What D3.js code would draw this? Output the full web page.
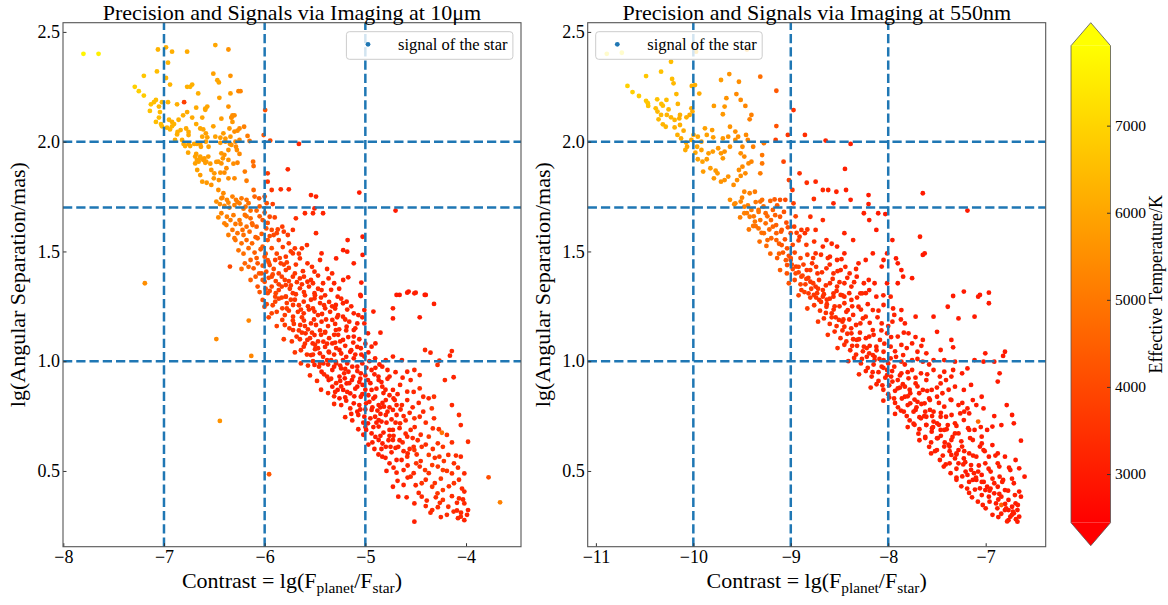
<!DOCTYPE html>
<html>
<head>
<meta charset="utf-8">
<title>Precision and Signals via Imaging</title>
<script src="https://cdn.jsdelivr.net/npm/d3@7"></script>
<style>
  body { margin: 0; background: #fff; }
  svg text { font-family: "Liberation Serif", "Times New Roman", serif; fill: #000; }
</style>
</head>
<body>
<svg id="fig" width="1168" height="605"></svg>
<script>
// ---- data ----
// each point: [contrast lg(Fp/Fs), lg(angular separation / mas), effective temperature K]
const pointsMid = [
  [-7.80,2.40,7700],[-7.65,2.40,7600],
  [-7.06,2.42,6300],[-6.98,2.43,6200],[-6.92,2.41,6200],[-6.77,2.41,6100],[-6.49,2.44,6000],[-6.36,2.42,5600],
  [-6.96,2.36,6300],[-7.07,2.32,6500],[-7.20,2.30,6700],[-7.29,2.25,6900],[-7.25,2.23,6900],[-7.20,2.21,6800],
  [-6.98,2.29,6300],[-6.94,2.26,6300],[-6.77,2.25,6200],[-6.74,2.25,6300],[-6.72,2.26,6200],[-6.66,2.22,6200],[-6.51,2.31,5900],[-6.47,2.28,6000],[-6.455,2.27,6000],[-6.34,2.30,5600],[-6.34,2.22,5800],[-6.26,2.23,5300],
  [-7.08,2.19,6500],[-7.10,2.18,6500],[-7.13,2.17,6600],[-7.05,2.16,6400],[-7.02,2.18,6400],[-6.96,2.18,6300],[-6.87,2.17,6200],[-6.80,2.18,3800],[-6.68,2.155,6100],[-6.59,2.15,6000],[-6.57,2.16,6000],[-6.45,2.20,5900],[-6.36,2.16,5600],
  [-7.14,2.14,6600],[-7.04,2.135,6400],[-7.05,2.11,6500],[-7.08,2.09,6500],[-7.03,2.08,6400],[-6.95,2.10,6300],[-6.92,2.09,6200],[-6.90,2.08,6300],[-6.855,2.10,6200],[-6.81,2.12,6200],[-6.77,2.135,6100],[-6.72,2.11,6100],[-6.62,2.11,6000],[-6.59,2.145,6000],[-6.68,2.08,6100],[-6.51,2.07,5900],[-6.43,2.105,5800],[-6.33,2.11,5600],[-6.32,2.09,5700],[-6.32,2.12,5500],[-6.35,2.06,5700],[-6.25,2.06,5400],
  [-7.02,2.07,6400],[-6.97,2.064,6300],[-6.94,2.056,6300],[-6.92,2.07,6300],[-6.865,2.044,6200],[-6.835,2.053,6200],[-6.78,2.06,6100],[-6.756,2.044,6100],[-6.64,2.06,6000],[-6.61,2.056,6000],[-6.584,2.038,5900],[-6.62,2.023,6000],[-6.57,2.02,5900],[-6.49,2.023,5900],[-6.44,2.018,5800],[-6.41,2.038,5800],[-6.39,2.014,5700],[-6.34,2.023,5700],[-6.27,2.05,5500],[-6.756,2.03,6100],[-6.87,2.033,6200],[-6.89,2.008,6200],[-6.82,2.008,6100],
  [-6.805,1.99,6100],[-6.79,1.98,6100],[-6.756,1.99,6000],[-6.74,1.98,6000],[-6.70,1.99,6000],[-6.673,1.99,6000],[-6.64,1.99,5900],[-6.633,1.977,5900],[-6.584,2.0,5900],[-6.557,1.977,5900],[-6.44,1.995,5700],[-6.39,2.0,5700],[-6.33,1.985,5600],[-6.25,2.008,5400],[-6.276,1.962,5500],
  [-6.76,1.95,6000],[-6.68,1.944,5900],[-6.673,1.917,5900],[-6.656,1.909,5900],[-6.64,1.924,5900],[-6.61,1.917,5800],[-6.58,1.909,5800],[-6.54,1.90,5800],[-6.48,1.908,5700],[-6.43,1.947,5700],[-6.415,1.924,5700],[-6.36,1.917,5600],[-6.31,1.90,5500],[-6.25,1.944,5400],
  [-6.24,2.23,5300],[-6.204,2.068,5200],[-6.17,2.026,5100],[-6.15,2.003,5000],[-6.01,2.03,4300],[-5.995,2.144,4200],[-5.945,2.005,4000],[-5.66,1.99,3300],[-6.30,2.12,5500],[-6.33,2.11,5500],[-6.29,2.0,5400],[-6.30,2.046,5500],[-6.345,1.99,5600],[-6.285,1.977,5400],[-6.27,1.904,5300],[-6.36,1.962,5600],[-6.40,1.94,5600],[-6.38,1.879,5500],[-6.43,1.901,5600],[-6.46,1.909,5700],
  [-6.18,1.822,5100],[-6.115,1.909,4800],[-6.11,1.889,4800],[-6.197,1.864,5100],[-6.30,1.833,5400],[-6.36,1.833,5500],[-6.40,1.859,5500],[-6.455,1.825,5600],[-6.505,1.833,5700],[-6.53,1.803,5600],[-6.576,1.813,5700],[-6.62,1.818,5800],[-6.64,1.848,5800],[-6.67,1.871,5900],[-6.69,1.901,5900],[-6.60,1.924,5800],[-6.56,1.932,5800],[-6.69,1.932,5900],[-6.64,1.932,5900],[-6.59,1.904,5800],[-6.53,1.871,5700],[-6.50,1.856,5700],[-6.44,1.859,5600],
  [-5.97,1.856,3700],[-5.97,1.818,3600],[-5.93,1.78,3600],[-5.84,1.783,3400],[-5.76,1.783,3300],[-5.77,1.874,3300],[-5.54,1.757,3200],[-5.49,1.75,3200],[-5.06,1.768,3000],[-4.70,1.686,3000],
  [-6.46,1.78,5500],[-6.41,1.765,5400],[-6.43,1.742,5400],[-6.375,1.735,5300],[-6.32,1.75,5200],[-6.285,1.735,5100],[-6.23,1.742,5000],[-6.18,1.735,4900],[-6.11,1.78,4600],[-6.055,1.742,4400],[-6.10,1.75,4600],[-6.00,1.75,4200],[-5.92,1.716,3800],
  [-6.48,1.727,5500],[-6.445,1.716,5400],[-6.40,1.707,5300],[-6.36,1.722,5300],[-6.30,1.711,5200],[-6.25,1.719,5100],[-6.19,1.704,4900],[-6.14,1.686,4800],[-6.08,1.686,4600],[-6.00,1.677,4300],[-5.95,1.658,4100],
  [-6.43,1.674,5300],[-6.375,1.658,5200],[-6.34,1.643,5100],[-6.40,1.628,5200],[-6.29,1.625,5000],[-6.25,1.643,5000],[-6.197,1.666,4900],[-6.14,1.651,4700],[-6.32,1.598,5000],[-6.27,1.583,4900],[-6.22,1.598,4800],[-6.18,1.613,4800],[-6.125,1.628,4600],[-6.08,1.613,4500],[-6.02,1.643,4300],[-5.984,1.605,4200],[-5.93,1.598,4000],[-5.88,1.583,3900],[-5.825,1.613,3700],[-5.72,1.598,3500],[-5.60,1.674,3300],[-5.52,1.674,3300],[-5.505,1.696,3200],[-5.42,1.674,3200],[-5.69,1.651,3400],
  [-6.29,1.552,4900],[-6.23,1.537,4800],[-6.18,1.552,4700],[-6.125,1.537,4600],[-6.07,1.56,4500],[-6.02,1.522,4400],[-5.97,1.552,4200],[-5.91,1.575,4000],[-5.86,1.552,3900],[-5.81,1.59,3700],[-5.76,1.537,3700],[-5.70,1.514,3600],[-5.63,1.514,3500],[-5.49,1.583,3300],[-5.58,1.529,3400],[-5.176,1.552,3100],[-5.18,1.499,3100],[-5.027,1.567,3000],[-5.027,1.484,3000],[-5.115,1.446,3100],[-5.22,1.506,3100],[-5.29,1.468,3100],[-5.435,1.491,3200],[-5.45,1.461,3300],[-5.505,1.408,3300],[-5.575,1.446,3400],[-5.65,1.468,3500],[-5.72,1.491,3600],[-5.79,1.476,3600],[-5.84,1.446,3700],[-5.895,1.461,3800],[-5.95,1.438,4000],[-6.00,1.476,4200],[-6.07,1.446,4300],[-6.14,1.461,4500],[-6.197,1.446,4600],[-6.11,1.423,4400],[-6.055,1.40,4300],[-5.984,1.408,4100],[-5.93,1.385,3900],[-5.86,1.40,3800],[-5.79,1.415,3700],[-5.72,1.385,3600],[-5.65,1.377,3500],[-5.575,1.362,3400],[-5.42,1.355,3300],[-5.365,1.377,3300],[-5.31,1.355,3200],[-5.22,1.37,3200],[-5.17,1.382,3100],[-5.04,1.358,3000],[-5.05,1.302,3100],[-4.66,1.302,3000],[-4.57,1.317,3000],[-4.50,1.312,3100],[-4.40,1.302,3000],[-6.345,1.431,4000],[-7.19,1.355,5500],
  [-6.07,1.34,4200],[-6.00,1.362,4100],[-5.93,1.34,3900],[-5.86,1.324,3800],[-5.79,1.347,3700],[-5.72,1.31,3600],[-5.65,1.332,3500],[-5.505,1.31,3400],[-5.435,1.324,3300],[-5.97,1.31,4000],[-5.895,1.294,3900],[-5.79,1.294,3700],
  [-6.158,1.185,5300],[-6.48,1.101,5400],[-6.133,1.024,5300],[-6.445,0.728,5600],[-5.956,0.485,4300],[-3.776,0.471,4100],[-3.662,0.357,5200],[-4.24,0.674,4900],
  [-5.045,1.297,3100],[-4.69,1.302,3000],[-4.584,1.312,3000],[-4.513,1.309,3100],[-4.41,1.302,3000],[-4.318,1.261,3100],[-4.46,1.20,3000],[-4.726,1.241,3100],[-4.92,1.226,3100],[-4.726,1.195,3000],[-4.85,1.13,3100],[-4.90,1.081,3100],[-4.726,1.021,3200],[-4.637,1.005,3200],[-4.513,0.96,3300],[-4.407,1.051,3300],[-4.353,1.039,3200],[-4.283,0.983,3500],[-4.141,1.046,3300],[-4.16,1.025,3200],[-4.21,0.914,3300],[-4.123,0.927,3200],[-4.265,1.002,3300],[-4.584,0.952,3200],[-4.46,0.876,3500],[-4.584,0.861,3300],[-4.425,0.838,3400],[-4.371,0.831,3300],[-4.318,0.838,3500],[-4.14,0.80,3300],[-4.425,0.77,3300],[-4.34,0.785,3600],[-4.513,0.74,3500],[-4.46,0.747,3400],[-4.318,0.74,3400],[-4.07,0.755,3400],[-4.052,0.709,3300],[-4.33,0.694,3400],[-4.19,0.664,3600],[-3.98,0.633,3400],[-4.37,0.656,3700],[-4.28,0.626,3500],[-4.23,0.61,3600],[-4.44,0.61,3500],[-4.513,0.595,3600],[-4.37,0.573,3700],[-4.265,0.565,3600],[-4.176,0.573,3500],[-4.12,0.535,3400],[-4.052,0.565,3300],[-4.017,0.489,3300],[-4.14,0.489,3500],[-4.23,0.504,3800],[-4.336,0.527,3700],[-4.407,0.504,3600],[-4.495,0.535,3500],[-4.584,0.565,3400],[-4.62,0.504,3300],[-4.55,0.474,3400],[-4.44,0.444,3500],[-4.336,0.428,3600],[-4.23,0.413,3700],[-4.12,0.444,3500],[-4.017,0.406,3300],[-4.07,0.375,3400],[-4.017,0.352,3300],[-3.98,0.322,3200],[-4.052,0.292,3300],[-4.017,0.276,3200],[-4.123,0.315,3400],[-4.176,0.337,3500],[-4.23,0.368,3600],[-4.283,0.398,3600],[-4.336,0.322,3400],[-4.44,0.383,3300],[-4.513,0.352,3200],[-4.513,0.269,3100],[-4.353,0.31,3300],[-4.673,0.383,3100],[-4.62,0.436,3200],[-4.726,0.428,3100],[-4.69,0.492,3200],[-4.76,0.535,3100],[-4.832,0.565,3100],[-4.673,0.61,3200],[-4.584,0.656,3300],[-4.726,0.641,3200],[-4.797,0.61,3100],[-4.868,0.641,3100],[-4.76,0.687,3200],[-4.655,0.717,3300],[-4.55,0.687,3400],[-4.868,0.702,3100],[-4.938,0.671,3100],[-4.974,0.717,3000],[-4.903,0.747,3100],[-4.797,0.755,3200],[-4.726,0.778,3200],[-4.637,0.80,3300],[-4.584,0.823,3300],[-4.708,0.823,3200],[-4.797,0.823,3200],[-4.868,0.80,3100],[-4.938,0.778,3100],[-5.01,0.747,3000],[-5.08,0.77,3000],[-5.115,0.808,3000],[-5.045,0.838,3100],[-4.938,0.869,3100],[-4.832,0.884,3200],[-4.726,0.869,3200],[-4.655,0.892,3300],[-4.55,0.914,3300],[-4.46,0.937,3400],[-4.76,0.93,3200],[-4.868,0.914,3100],[-4.974,0.914,3100],[-5.08,0.884,3000],[-5.15,0.853,3000],[-5.22,0.869,3000],[-5.257,0.831,2900],[-5.186,0.899,3000],[-5.045,0.945,3100],[-4.938,0.96,3100],[-4.832,0.975,3200],[-5.08,0.975,3100],[-5.168,0.952,3100],[-5.257,0.93,3000],[-5.364,0.914,3000],[-5.328,0.96,3100],[-5.435,0.952,3100],[-5.505,0.983,3200],[-5.417,0.99,3200],[-5.293,0.998,3100],[-5.222,1.005,3100],[-5.115,1.013,3100],[-5.01,1.021,3200],[-4.903,1.013,3200],[-4.797,1.005,3300],[-5.54,1.028,3300],[-5.452,1.036,3200],[-5.364,1.043,3200],[-5.257,1.051,3100],[-5.15,1.043,3100],[-5.045,1.059,3200],[-4.938,1.066,3200],[-5.612,1.066,3400],[-5.523,1.081,3300],[-5.417,1.089,3300],[-5.328,1.081,3200],[-5.222,1.097,3200],[-5.115,1.112,3100],[-4.974,1.127,3100],[-5.683,1.112,3500],[-5.594,1.127,3400],[-5.505,1.119,3300],[-5.399,1.134,3300],[-5.293,1.142,3200],[-5.186,1.157,3200],[-5.08,1.172,3100],[-5.754,1.15,3600],[-5.647,1.165,3500],[-5.54,1.172,3400],[-5.435,1.18,3300],[-5.328,1.188,3300],[-5.222,1.203,3200],[-5.115,1.218,3100],[-5.01,1.233,3100],[-5.825,1.188,3700],[-5.718,1.203,3600],[-5.612,1.218,3500],[-5.505,1.226,3400],[-5.399,1.241,3300],[-5.293,1.256,3200],[-5.186,1.271,3200],[-5.93,1.218,3900],[-5.825,1.241,3800],[-5.718,1.256,3600],[-5.612,1.271,3500],[-5.505,1.286,3400],[-6.002,1.248,4000],[-5.895,1.271,3900],[-5.79,1.294,3700],[-6.02,1.279,4100],[-5.275,1.294,3200],[-5.222,1.264,3200],[-5.01,1.172,3100],[-5.115,1.142,3100],[-5.718,1.142,3500],[-5.576,1.097,3400],[-5.47,1.059,3300],[-5.38,1.005,3200],[-5.31,0.975,3100],[-5.24,0.967,3100],[-5.204,0.922,3000],[-5.133,0.914,3000],[-5.027,0.892,3100],[-5.328,0.884,3000],[-5.275,0.869,3000],[-4.992,0.808,3100],[-4.903,0.838,3100],[-4.815,0.793,3200],[-4.992,0.687,3000],[-4.868,0.732,3100],[-4.726,0.687,3200],[-4.69,0.55,3100]
];

// dense core of the 10um band
const coreMid = [
  [-6.42,1.745,5300],[-6.35,1.70,5200],[-6.27,1.725,5100],[-6.21,1.695,5000],[-6.16,1.72,4900],[-6.05,1.705,4500],[-5.98,1.72,4200],
  [-6.46,1.655,5400],[-6.38,1.62,5200],[-6.31,1.665,5100],[-6.24,1.625,5000],[-6.18,1.66,4900],[-6.12,1.62,4700],[-6.05,1.66,4500],[-5.97,1.63,4200],[-5.90,1.655,3900],
  [-6.36,1.575,5100],[-6.30,1.56,5000],[-6.21,1.575,4800],[-6.15,1.59,4700],[-6.09,1.565,4500],[-6.03,1.58,4400],[-5.95,1.57,4100],[-5.87,1.60,3900],[-5.77,1.575,3700],
  [-6.26,1.505,4900],[-6.21,1.49,4800],[-6.16,1.515,4700],[-6.10,1.495,4500],[-6.04,1.51,4400],[-5.99,1.49,4200],[-5.93,1.515,4100],[-5.88,1.49,3900],[-5.82,1.52,3800],[-5.74,1.50,3700],[-5.66,1.49,3600],
  [-6.23,1.42,4800],[-6.16,1.43,4600],[-6.02,1.435,4300],[-5.97,1.46,4200],[-5.91,1.42,4000],[-5.81,1.44,3800],[-5.76,1.425,3700],[-5.69,1.44,3600],[-5.62,1.41,3500],[-5.53,1.43,3400],[-5.38,1.42,3300],
  [-6.14,1.37,4500],[-6.09,1.385,4400],[-6.02,1.37,4300],[-5.96,1.38,4100],[-5.89,1.365,3900],[-5.83,1.385,3800],[-5.76,1.365,3700],[-5.68,1.36,3600],[-5.61,1.385,3500],[-5.54,1.37,3400],[-5.47,1.39,3400],[-5.33,1.40,3300],
  [-6.05,1.315,4300],[-5.99,1.33,4100],[-5.95,1.32,4000],[-5.89,1.31,3900],[-5.83,1.34,3800],[-5.75,1.33,3700],[-5.69,1.305,3600],[-5.61,1.315,3500],[-5.56,1.34,3500],[-5.47,1.33,3400],[-5.40,1.30,3300],[-5.34,1.325,3300],[-5.26,1.33,3200],
  [-5.98,1.26,4000],[-5.92,1.255,3900],[-5.86,1.285,3800],[-5.78,1.265,3700],[-5.74,1.28,3700],[-5.66,1.255,3600],[-5.57,1.25,3500],[-5.54,1.28,3500],[-5.45,1.265,3400],[-5.36,1.27,3400],[-5.33,1.25,3300],[-5.24,1.285,3300],[-5.14,1.25,3200],
  [-5.96,1.20,3900],[-5.88,1.225,3800],[-5.80,1.21,3700],[-5.76,1.23,3700],[-5.67,1.225,3600],[-5.63,1.20,3600],[-5.56,1.235,3500],[-5.47,1.21,3400],[-5.43,1.215,3400],[-5.35,1.225,3400],[-5.27,1.21,3300],[-5.18,1.235,3300],[-5.07,1.21,3200],
  [-5.88,1.16,3800],[-5.80,1.165,3700],[-5.71,1.17,3600],[-5.61,1.185,3500],[-5.57,1.145,3500],[-5.49,1.165,3400],[-5.45,1.14,3400],[-5.37,1.16,3400],[-5.30,1.17,3300],[-5.26,1.145,3300],[-5.16,1.18,3300],[-5.10,1.15,3200],[-5.03,1.20,3200],
  [-5.81,1.10,3700],[-5.73,1.09,3600],[-5.65,1.10,3500],[-5.63,1.13,3500],[-5.55,1.105,3400],[-5.47,1.09,3400],[-5.44,1.12,3400],[-5.36,1.105,3300],[-5.27,1.12,3300],[-5.25,1.09,3300],[-5.17,1.11,3200],[-5.06,1.10,3200],[-5.00,1.08,3100],
  [-5.70,1.04,3600],[-5.64,1.05,3500],[-5.58,1.03,3500],[-5.50,1.055,3400],[-5.42,1.02,3300],[-5.40,1.065,3300],[-5.31,1.03,3300],[-5.29,1.06,3300],[-5.19,1.02,3200],[-5.10,1.03,3200],[-5.08,1.065,3200],[-4.97,1.04,3100],
  [-5.64,0.99,3500],[-5.57,0.98,3500],[-5.52,1.00,3400],[-5.46,0.975,3400],[-5.37,0.985,3300],[-5.34,1.005,3300],[-5.25,0.98,3200],[-5.18,0.99,3200],[-5.13,0.975,3200],[-5.03,0.99,3100],[-4.96,1.00,3100],[-4.86,0.985,3100],[-4.78,0.96,3200],
  [-5.55,0.935,3400],[-5.48,0.91,3400],[-5.41,0.94,3300],[-5.34,0.92,3300],[-5.29,0.90,3300],[-5.21,0.945,3200],[-5.12,0.93,3200],[-5.06,0.905,3100],[-5.00,0.935,3100],[-4.91,0.94,3100],[-4.84,0.905,3100],[-4.70,0.95,3200],[-4.63,0.925,3200],
  [-5.44,0.87,3300],[-5.37,0.855,3300],[-5.31,0.84,3300],[-5.24,0.885,3200],[-5.18,0.86,3200],[-5.10,0.875,3100],[-5.03,0.85,3100],[-4.97,0.845,3100],[-4.89,0.875,3100],[-4.82,0.855,3100],[-4.76,0.845,3200],[-4.68,0.85,3200],[-4.52,0.86,3300],
  [-5.31,0.805,3300],[-5.24,0.80,3200],[-5.19,0.82,3200],[-5.15,0.785,3200],[-5.06,0.80,3100],[-5.00,0.78,3100],[-4.96,0.815,3100],[-4.88,0.775,3100],[-4.83,0.81,3100],[-4.76,0.79,3200],[-4.69,0.80,3200],[-4.53,0.79,3300],[-4.47,0.81,3300],
  [-5.20,0.745,3200],[-5.13,0.73,3200],[-5.07,0.755,3100],[-5.02,0.72,3100],[-4.95,0.74,3100],[-4.85,0.76,3100],[-4.84,0.725,3100],[-4.74,0.735,3200],[-4.69,0.755,3200],[-4.60,0.73,3300],[-4.56,0.765,3300],[-4.40,0.72,3400],
  [-5.07,0.69,3100],[-5.02,0.665,3100],[-4.92,0.70,3100],[-4.90,0.655,3100],[-4.82,0.675,3100],[-4.72,0.66,3200],[-4.66,0.695,3200],[-4.60,0.67,3300],[-4.51,0.70,3300],[-4.45,0.665,3400],[-4.27,0.69,3500],
  [-4.97,0.62,3100],[-4.91,0.60,3100],[-4.83,0.625,3100],[-4.77,0.64,3200],[-4.70,0.605,3200],[-4.63,0.63,3300],[-4.56,0.60,3300],[-4.48,0.64,3400],[-4.40,0.62,3400],[-4.33,0.60,3500],[-4.14,0.63,3400],
  [-4.87,0.575,3100],[-4.80,0.56,3100],[-4.74,0.585,3200],[-4.64,0.55,3200],[-4.58,0.58,3300],[-4.49,0.575,3400],[-4.45,0.545,3400],[-4.31,0.56,3500],[-4.22,0.545,3600],[-4.10,0.57,3400],
  [-4.79,0.50,3100],[-4.72,0.515,3200],[-4.58,0.525,3300],[-4.52,0.49,3300],[-4.46,0.52,3400],[-4.37,0.49,3500],[-4.28,0.52,3600],[-4.19,0.50,3600],[-4.08,0.515,3400],
  [-4.68,0.455,3200],[-4.58,0.47,3300],[-4.50,0.435,3300],[-4.40,0.46,3400],[-4.31,0.445,3500],[-4.25,0.465,3600],[-4.17,0.43,3500],[-4.07,0.46,3400],[-4.04,0.42,3300],
  [-4.59,0.38,3200],[-4.47,0.40,3300],[-4.39,0.365,3300],[-4.30,0.38,3400],[-4.26,0.355,3500],[-4.14,0.385,3400],[-4.09,0.355,3300],[-4.03,0.37,3300],
  [-4.40,0.34,3300],[-4.28,0.335,3400],[-4.19,0.30,3400],[-4.09,0.32,3300],[-4.05,0.31,3300],[-3.99,0.30,3200],[-4.08,0.285,3300],[-4.25,0.29,3300]
];

// the most crowded stretch of the 10um band
const denseMid = [
  [-6.08,1.47,4400],[-5.96,1.45,4100],[-5.85,1.47,3900],[-5.78,1.45,3800],[-6.03,1.40,4200],[-5.92,1.395,4000],[-5.80,1.37,3800],[-5.70,1.40,3600],
  [-5.86,1.35,3800],[-5.74,1.345,3700],[-5.63,1.35,3500],[-5.52,1.355,3400],[-5.83,1.29,3800],[-5.70,1.28,3600],[-5.60,1.30,3500],[-5.50,1.30,3400],[-5.44,1.29,3400],
  [-5.78,1.24,3700],[-5.64,1.235,3600],[-5.52,1.24,3500],[-5.41,1.255,3400],[-5.30,1.24,3300],[-5.72,1.185,3600],[-5.60,1.16,3500],[-5.51,1.19,3400],[-5.39,1.19,3400],[-5.28,1.20,3300],[-5.20,1.19,3300],
  [-5.66,1.14,3600],[-5.53,1.13,3500],[-5.40,1.13,3400],[-5.31,1.12,3300],[-5.19,1.14,3300],[-5.60,1.08,3500],[-5.50,1.075,3400],[-5.38,1.08,3300],[-5.30,1.085,3300],[-5.20,1.07,3300],[-5.12,1.085,3200],
  [-5.52,1.03,3400],[-5.36,1.04,3300],[-5.24,1.035,3300],[-5.14,1.05,3200],[-5.04,1.03,3200],[-5.45,0.99,3400],[-5.29,0.99,3300],[-5.20,0.965,3200],[-5.08,0.955,3200],[-4.99,0.97,3100],[-4.90,0.97,3100],
  [-5.38,0.93,3300],[-5.25,0.91,3200],[-5.16,0.90,3200],[-5.05,0.92,3100],[-4.95,0.90,3100],[-4.87,0.93,3100],[-4.78,0.92,3200],
  [-5.30,0.86,3200],[-5.20,0.835,3200],[-5.11,0.84,3100],[-5.00,0.87,3100],[-4.92,0.83,3100],[-4.80,0.87,3200],[-4.72,0.83,3200],
  [-5.14,0.76,3100],[-5.05,0.78,3100],[-4.93,0.79,3100],[-4.85,0.79,3100],[-4.78,0.77,3200],[-4.65,0.78,3300],[-5.00,0.70,3100],[-4.89,0.72,3100],[-4.79,0.72,3100],[-4.70,0.72,3200],[-4.62,0.75,3300],
  [-4.93,0.63,3100],[-4.85,0.66,3100],[-4.76,0.66,3200],[-4.66,0.64,3200],[-4.53,0.65,3300],[-4.84,0.60,3100],[-4.75,0.61,3200],[-4.62,0.59,3300],[-4.52,0.61,3400]
];

const pointsVis = [
  [-10.888,2.40,7500],[-10.734,2.405,7600],[-9.972,2.41,6400],[-9.45,2.42,6000],
  [-10.229,2.364,6500],[-10.331,2.319,6600],[-10.485,2.299,6700],[-10.218,2.286,6500],[-10.203,2.266,6400],[-10.676,2.254,6900],[-10.624,2.226,6900],[-10.558,2.208,6800],[-10.016,2.254,6200],[-9.983,2.258,6200],[-9.939,2.219,6100],[-10.174,2.217,6400],[-10.276,2.19,6500],[-10.371,2.193,6600],[-10.485,2.186,6700],[-10.467,2.175,6700],[-10.463,2.163,6600],[-10.386,2.152,6500],[-10.328,2.172,6500],[-10.313,2.164,6500],[-10.159,2.172,6300],[-10.254,2.147,6400],[-10.368,2.137,6400],[-10.331,2.122,6400],[-10.272,2.122,6300],[-10.229,2.111,6300],[-10.192,2.099,6300],[-10.144,2.106,6200],[-10.071,2.111,6200],[-10.038,2.122,6100],[-10.137,2.122,6200],[-10.009,2.137,6100],[-10.02,2.152,6100],[-10.357,2.102,6400],[-10.313,2.079,6300],[-10.283,2.068,6300],[-10.192,2.065,6200],[-10.137,2.076,6200],[-10.10,2.05,6100],[-10.163,2.031,6200],[-10.126,2.015,6100],[-10.075,1.996,6100],[-10.064,1.977,6000],[-10.082,1.962,6100],[-10.02,2.008,6000],[-9.998,2.031,6000],[-9.954,2.023,6000],[-9.917,2.0,5900],[-9.881,2.061,5900],[-9.862,2.031,5900],[-9.807,2.053,5800],[-9.796,2.02,5800],[-9.961,1.977,6000],[-9.917,1.962,5900],[-9.979,1.95,6000],[-9.954,1.92,5900],[-9.906,1.909,5900],[-9.862,1.92,5800],[-9.899,1.864,5800],[-9.844,1.947,5800],[-9.80,1.955,5800],[-9.745,1.97,5700],[-9.716,1.947,5700],[-9.679,1.955,5600],[-9.697,1.924,5700],[-9.825,1.879,5800],[-9.771,1.868,5700],[-9.752,1.856,5700],[-9.789,1.833,5700],[-9.716,1.818,5600],[-9.679,1.825,5600],[-9.642,1.841,5600],[-9.587,1.803,5500],[-9.551,1.825,5500],[-9.514,1.844,5500],[-9.466,1.856,5400],[-9.532,1.871,5500],[-9.496,1.886,5400],[-9.434,1.901,5400],[-9.404,1.909,5300],[-9.477,1.932,5400],[-9.514,1.947,5500],[-9.624,1.977,5600],[-9.569,2.008,5500],[-9.54,2.023,5500],[-9.642,2.023,5600],[-9.697,2.015,5700],[-9.624,2.068,5600],[-9.569,2.046,5500],[-9.459,2.031,5400],[-9.441,2.008,5300],[-9.496,1.977,5400],[-9.386,1.977,5200],[-9.276,1.993,5000],[-9.294,1.939,5000],[-9.294,1.901,5000],[-9.313,1.856,5100],[-9.697,2.125,5700],[-9.679,2.16,5700],[-9.789,2.163,5800],[-9.716,2.281,5800],[-9.631,2.308,5600],[-9.532,2.273,5500],[-9.661,2.198,5600],[-9.558,2.217,5400],[-9.466,2.163,5300],[-9.404,2.122,5200],[-9.422,2.102,5200],[-9.514,2.19,5400],[-9.313,2.296,4800],[-9.148,2.232,4300],[-9.148,2.071,4200],[-9.155,2.008,3800],[-9.03,2.031,3600],[-8.972,2.144,3500],[-8.855,2.031,3400],[-8.642,2.005,3200],[-8.386,1.99,3100],[-9.074,1.909,3900],[-8.91,1.856,3500],[-9.019,1.825,3800],[-8.983,1.78,3600],[-8.836,1.813,3400],[-8.745,1.818,3300],[-8.444,1.876,3100],[-8.671,1.78,3300],[-8.616,1.78,3200],[-8.532,1.772,3200],[-8.433,1.78,3100],[-8.202,1.757,3000],[-7.645,1.765,3000],[-7.187,1.686,3000],
  [-9.166,1.737,4400],[-9.11,1.735,4200],[-9.056,1.735,4000],[-8.972,1.719,3800],[-8.763,1.739,3400],[-8.562,1.719,3200],[-8.386,1.735,3100],[-8.202,1.716,3100],[-8.103,1.674,3000],[-8.03,1.67,3000],
  [-9.294,1.735,4800],[-9.422,1.765,5200],[-9.477,1.772,5300],[-9.368,1.772,5100],[-9.313,1.727,4900],[-9.624,1.735,5500],[-9.569,1.719,5400],[-9.514,1.727,5300],[-9.477,1.704,5200],[-9.404,1.689,5100],[-9.331,1.689,4900],[-9.258,1.674,4700],[-9.184,1.689,4500],[-9.477,1.674,5200],[-9.422,1.658,5100],[-9.368,1.636,5000],[-9.313,1.643,4900],[-9.258,1.628,4800],[-9.203,1.643,4600],[-9.11,1.658,4300],[-9.045,1.631,4100],[-9.093,1.598,4300],[-9.148,1.583,4500],[-9.184,1.613,4600],[-9.331,1.605,4900],[-9.386,1.616,5000],[-9.276,1.583,4800],[-9.239,1.552,4700],[-9.148,1.552,4500],[-9.093,1.529,4300],[-9.038,1.514,4200],[-9.001,1.583,3900],[-8.965,1.613,3800],[-8.891,1.598,3600],[-8.855,1.583,3500],[-8.91,1.567,3600],[-8.799,1.658,3400],[-8.671,1.643,3300],[-8.745,1.598,3400],[-8.634,1.552,3300],[-8.525,1.522,3200],[-8.45,1.583,3200],[-8.25,1.674,3100],[-8.195,1.643,3100],[-8.122,1.598,3000],[-7.957,1.552,3000],[-7.645,1.484,3000],[-7.674,1.567,3100],[-7.626,1.491,3000],[-7.755,1.378,3000],[-7.92,1.468,3000],[-7.902,1.446,3000],[-7.865,1.415,3000],[-7.847,1.385,3100],[-7.334,1.297,3000],[-7.224,1.317,3000],[-7.059,1.302,3000],[-6.967,1.312,3000],[-8.012,1.491,3000],[-8.048,1.461,3100],[-8.067,1.431,3100],[-8.012,1.355,3000],[-7.902,1.355,3000],[-8.14,1.355,3100],[-8.158,1.491,3100],[-8.231,1.461,3100],[-8.305,1.446,3200],[-8.36,1.552,3200],[-8.45,1.491,3200],[-8.525,1.461,3300],[-8.598,1.476,3300],[-8.671,1.522,3300],[-8.745,1.491,3400],[-8.781,1.446,3500],[-8.836,1.415,3600],[-8.891,1.385,3700],[-8.946,1.431,3800],[-9.001,1.461,4000],[-9.038,1.438,4100],[-8.726,1.40,3500],[-8.634,1.423,3400],[-8.562,1.40,3400],[-8.488,1.415,3300],[-8.396,1.40,3300],[-8.323,1.385,3200],[-8.25,1.355,3200],[-8.195,1.324,3100],[-8.286,1.309,3200],[-8.378,1.34,3300],[-8.45,1.355,3300],[-8.525,1.34,3400],[-8.598,1.355,3400],[-8.671,1.324,3500],[-8.745,1.34,3500],[-8.799,1.362,3600],[-8.818,1.309,3600],[-8.891,1.324,3700],[-8.562,1.294,3400],[-8.45,1.294,3300],[-8.122,1.294,3100],
  [-8.763,1.302,3600],[-8.708,1.279,3500],[-8.634,1.248,3500],[-8.671,1.294,3500],[-8.562,1.309,3400],[-8.58,1.218,3400],[-8.506,1.188,3400],[-8.45,1.157,3400],[-8.378,1.127,3300],[-8.323,1.097,3300],[-8.25,1.066,3300],[-8.195,1.036,3300],[-8.14,1.005,3200],[-8.067,0.975,3200],[-8.012,0.937,3200],[-7.957,0.907,3200],[-7.902,0.876,3200],[-7.829,0.838,3100],[-7.774,0.808,3100],[-7.719,0.778,3100],[-7.664,0.74,3100],[-7.609,0.709,3100],[-7.554,0.679,3100],[-7.499,0.649,3100],[-7.425,0.611,3100],[-7.352,0.573,3100],[-7.279,0.535,3000],[-7.206,0.497,3000],[-7.132,0.459,3000],[-7.059,0.421,3000],[-6.967,0.383,3000],[-6.894,0.352,3000],[-6.802,0.322,3000],[-6.747,0.292,3000],[-6.674,0.269,3000],[-6.656,0.292,3000],[-6.674,0.322,3000],[-6.638,0.383,3000],[-6.656,0.406,3000],[-6.693,0.352,3000],[-6.729,0.337,3000],[-6.766,0.368,3000],[-6.839,0.383,3100],[-6.802,0.413,3000],[-6.711,0.444,3000],[-6.656,0.512,3000],[-6.693,0.55,3000],[-6.601,0.474,3000],[-6.802,0.565,3000],[-6.857,0.474,3100],[-6.912,0.444,3100],[-6.949,0.497,3100],[-6.876,0.535,3100],[-6.931,0.618,3000],[-7.022,0.595,3100],[-7.096,0.565,3100],[-7.004,0.535,3100],[-7.077,0.497,3100],[-7.15,0.527,3100],[-7.169,0.58,3100],[-7.242,0.611,3100],[-7.132,0.641,3100],[-7.041,0.656,3100],[-7.169,0.687,3100],[-7.279,0.671,3100],[-7.352,0.641,3100],[-7.315,0.717,3100],[-7.224,0.732,3100],[-7.077,0.725,4600],[-6.912,0.75,3000],[-6.839,0.709,3000],[-6.729,0.755,3000],[-6.711,0.717,3000],[-6.784,0.80,3000],[-6.638,0.638,3000],[-7.132,0.823,3000],[-7.041,0.838,3000],[-7.096,0.80,3000],[-7.022,0.785,3000],[-7.187,0.785,3100],[-7.279,0.80,3100],[-7.352,0.823,3100],[-7.425,0.793,3100],[-7.462,0.747,3100],[-7.389,0.709,3100],[-7.462,0.687,3100],[-7.535,0.725,3100],[-7.572,0.778,3100],[-7.499,0.838,3100],[-7.627,0.808,3100],[-7.682,0.854,3100],[-7.554,0.869,3100],[-7.462,0.899,3100],[-7.407,0.914,3100],[-7.609,0.914,3100],[-7.719,0.899,3100],[-7.792,0.922,3200],[-7.865,0.945,3200],[-7.755,0.96,3200],[-7.664,0.945,3100],[-7.535,0.96,3100],[-7.425,0.952,3100],[-7.334,0.96,3100],[-7.242,0.945,3000],[-7.187,0.967,3000],[-7.022,0.998,3000],[-7.004,1.036,3000],[-6.802,1.043,3000],[-6.821,1.024,3000],[-6.912,0.998,3000],[-6.857,0.945,3000],[-6.876,0.907,3000],[-7.114,1.005,3000],[-7.315,0.998,3100],[-7.425,1.005,3100],[-7.535,1.005,3100],[-7.645,0.998,3100],[-7.755,1.005,3200],[-7.865,0.998,3200],[-7.975,1.013,3200],[-7.938,0.975,3200],[-7.847,1.028,3200],[-7.70,1.043,3100],[-7.609,1.036,3100],[-7.462,1.051,3100],[-7.334,1.063,3000],[-7.755,1.081,3100],[-7.865,1.074,3200],[-7.975,1.066,3200],[-8.048,1.043,3200],[-8.085,1.097,3300],[-8.012,1.127,3200],[-7.902,1.112,3200],[-7.792,1.127,3100],[-7.645,1.097,3100],[-7.499,1.134,3000],[-7.352,1.097,3000],[-8.158,1.142,3300],[-8.067,1.172,3200],[-7.957,1.18,3200],[-7.829,1.172,3100],[-7.719,1.203,3100],[-7.535,1.203,3000],[-7.389,1.248,3000],[-7.279,1.195,3000],[-7.114,1.203,3000],[-7.077,1.294,3000],[-6.967,1.264,3000],[-8.231,1.203,3300],[-8.158,1.233,3300],[-8.048,1.256,3200],[-7.975,1.294,3200],[-7.865,1.233,3100],[-7.938,1.211,3200],[-8.305,1.248,3300],[-8.378,1.279,3300],[-8.45,1.264,3400],[-8.488,1.302,3400],[-8.268,1.309,3300],[-8.36,1.211,3300],[-8.286,1.172,3300],[-8.415,1.233,3300],[-8.195,1.112,3300],[-8.122,1.066,3200],[-8.158,1.028,3300],[-8.048,1.005,3200],[-8.012,0.96,3200],[-7.902,0.914,3200],[-7.829,0.884,3200],[-7.774,0.854,3100],[-7.70,0.815,3100],[-7.645,0.869,3100],[-7.572,0.823,3100],[-7.535,0.77,3100],[-7.609,0.747,3100],[-7.499,0.717,3100],[-7.425,0.687,3100],[-7.315,0.671,3100],[-7.371,0.611,3100],[-7.279,0.595,3000],[-7.315,0.557,3100],[-7.224,0.557,3000],[-7.187,0.482,3000],[-7.096,0.459,3000],[-7.041,0.482,3000],[-6.985,0.428,3000],[-6.912,0.398,3000],[-7.004,0.413,3000],[-6.876,0.428,3000],[-6.839,0.345,4500],[-6.766,0.322,3000],[-6.711,0.307,3000],[-6.766,0.276,3000],[-6.821,0.459,3000],[-6.747,0.504,3000],[-6.876,0.58,3000],[-6.967,0.565,3000],[-7.059,0.611,3000],[-7.114,0.687,3000],[-6.985,0.687,3000],[-6.931,0.702,3000],[-7.407,0.747,3100],[-7.261,0.762,3100],[-7.169,0.762,3000],[-7.224,0.869,3000],[-7.315,0.884,3100],[-7.15,0.892,3000],[-7.444,0.854,3100],[-7.352,0.93,3100]
];

// dense core of the 550nm band
const coreVis = [
  [-9.58,1.715,5400],[-9.50,1.745,5300],[-9.44,1.71,5200],[-9.36,1.725,5000],[-9.28,1.705,4800],[-9.21,1.73,4600],[-9.14,1.71,4400],
  [-9.52,1.655,5200],[-9.45,1.675,5100],[-9.38,1.66,5000],[-9.33,1.68,4900],[-9.24,1.66,4700],[-9.16,1.665,4500],[-9.07,1.68,4200],[-8.95,1.66,3900],
  [-9.43,1.60,5000],[-9.36,1.615,4900],[-9.30,1.585,4800],[-9.22,1.60,4700],[-9.15,1.62,4500],[-9.10,1.59,4300],[-9.03,1.61,4100],[-8.94,1.585,3800],[-8.83,1.60,3600],
  [-9.32,1.545,4800],[-9.25,1.525,4700],[-9.20,1.56,4600],[-9.12,1.535,4400],[-9.06,1.555,4200],[-8.98,1.53,4000],[-8.92,1.55,3800],[-8.84,1.53,3700],[-8.76,1.545,3500],[-8.58,1.535,3300],
  [-9.21,1.49,4600],[-9.14,1.47,4400],[-9.08,1.495,4300],[-9.02,1.48,4100],[-8.96,1.495,4000],[-8.90,1.47,3900],[-8.83,1.485,3700],[-8.77,1.47,3600],[-8.69,1.485,3500],[-8.62,1.47,3400],[-8.48,1.465,3300],
  [-9.11,1.415,4400],[-9.04,1.40,4200],[-8.98,1.42,4000],[-8.92,1.405,3900],[-8.87,1.44,3800],[-8.80,1.415,3700],[-8.74,1.43,3600],[-8.68,1.405,3500],[-8.60,1.44,3400],[-8.52,1.41,3400],[-8.44,1.43,3300],[-8.33,1.42,3300],
  [-9.02,1.355,4200],[-8.96,1.37,4000],[-8.90,1.35,3900],[-8.84,1.375,3800],[-8.77,1.355,3700],[-8.71,1.37,3600],[-8.64,1.345,3500],[-8.57,1.375,3400],[-8.50,1.36,3400],[-8.42,1.38,3300],[-8.35,1.36,3300],[-8.20,1.37,3200],
  [-8.92,1.30,3900],[-8.86,1.315,3800],[-8.80,1.29,3700],[-8.73,1.31,3600],[-8.66,1.305,3500],[-8.60,1.285,3500],[-8.53,1.32,3400],[-8.47,1.30,3400],[-8.40,1.31,3300],[-8.32,1.29,3300],[-8.23,1.31,3200],[-8.05,1.30,3200],
  [-8.83,1.24,3700],[-8.76,1.255,3600],[-8.70,1.23,3600],[-8.63,1.26,3500],[-8.56,1.235,3400],[-8.50,1.25,3400],[-8.43,1.225,3300],[-8.37,1.25,3300],[-8.28,1.235,3300],[-8.21,1.26,3200],[-8.10,1.23,3200],[-7.95,1.24,3100],
  [-8.72,1.18,3600],[-8.66,1.195,3500],[-8.60,1.17,3500],[-8.54,1.20,3400],[-8.47,1.18,3400],[-8.40,1.19,3300],[-8.33,1.165,3300],[-8.26,1.195,3300],[-8.19,1.175,3200],[-8.11,1.20,3200],[-8.00,1.16,3200],[-7.87,1.19,3100],
  [-8.62,1.12,3500],[-8.55,1.135,3400],[-8.49,1.105,3400],[-8.42,1.125,3400],[-8.36,1.10,3300],[-8.29,1.13,3300],[-8.23,1.105,3200],[-8.15,1.12,3200],[-8.07,1.14,3200],[-7.97,1.11,3100],[-7.84,1.13,3100],[-7.72,1.11,3100],
  [-8.52,1.06,3400],[-8.45,1.075,3400],[-8.39,1.05,3300],[-8.32,1.07,3300],[-8.26,1.045,3300],[-8.19,1.07,3200],[-8.12,1.05,3200],[-8.04,1.08,3200],[-7.93,1.045,3100],[-7.81,1.06,3100],[-7.66,1.07,3100],
  [-8.41,1.00,3300],[-8.35,1.015,3300],[-8.28,0.99,3300],[-8.22,1.02,3200],[-8.15,0.985,3200],[-8.09,1.01,3200],[-8.00,0.99,3200],[-7.92,1.02,3100],[-7.83,0.985,3100],[-7.70,1.01,3100],[-7.58,0.985,3100],
  [-8.30,0.94,3300],[-8.23,0.955,3200],[-8.17,0.93,3200],[-8.10,0.95,3200],[-8.03,0.925,3200],[-7.96,0.955,3100],[-7.88,0.935,3100],[-7.80,0.95,3100],[-7.72,0.925,3100],[-7.60,0.94,3100],[-7.47,0.93,3100],
  [-8.18,0.88,3200],[-8.12,0.895,3200],[-8.05,0.87,3200],[-7.99,0.89,3100],[-7.93,0.865,3100],[-7.85,0.895,3100],[-7.78,0.87,3100],[-7.70,0.885,3100],[-7.60,0.865,3100],[-7.50,0.88,3100],[-7.38,0.87,3100],
  [-8.05,0.82,3200],[-7.99,0.835,3100],[-7.93,0.81,3100],[-7.86,0.83,3100],[-7.80,0.80,3100],[-7.73,0.825,3100],[-7.66,0.805,3100],[-7.58,0.83,3100],[-7.48,0.81,3100],[-7.36,0.825,3100],[-7.24,0.81,3100],
  [-7.93,0.76,3100],[-7.87,0.775,3100],[-7.81,0.75,3100],[-7.74,0.77,3100],[-7.68,0.745,3100],[-7.62,0.77,3100],[-7.55,0.75,3100],[-7.46,0.765,3100],[-7.35,0.755,3100],[-7.22,0.77,3100],
  [-7.80,0.70,3100],[-7.74,0.715,3100],[-7.68,0.69,3100],[-7.61,0.71,3100],[-7.55,0.695,3100],[-7.48,0.71,3100],[-7.40,0.69,3100],[-7.30,0.705,3100],[-7.18,0.695,3100],[-7.05,0.70,3100],
  [-7.68,0.64,3100],[-7.62,0.655,3100],[-7.56,0.63,3100],[-7.49,0.65,3100],[-7.42,0.63,3100],[-7.34,0.655,3100],[-7.25,0.635,3100],[-7.16,0.65,3100],[-7.04,0.625,3100],
  [-7.56,0.58,3100],[-7.50,0.595,3100],[-7.44,0.57,3100],[-7.37,0.59,3100],[-7.30,0.575,3100],[-7.22,0.59,3100],[-7.13,0.57,3100],[-7.01,0.59,3100],[-6.90,0.57,3100],
  [-7.43,0.52,3100],[-7.37,0.535,3100],[-7.30,0.51,3100],[-7.23,0.53,3100],[-7.15,0.505,3100],[-7.07,0.525,3100],[-6.97,0.51,3100],[-6.86,0.52,3100],[-6.76,0.515,3100],
  [-7.30,0.46,3100],[-7.24,0.475,3100],[-7.17,0.45,3100],[-7.10,0.47,3100],[-7.02,0.45,3100],[-6.93,0.465,3100],[-6.83,0.45,3100],[-6.73,0.465,3100],
  [-7.17,0.40,3100],[-7.11,0.415,3100],[-7.04,0.39,3100],[-6.96,0.41,3100],[-6.86,0.395,3100],[-6.77,0.41,3100],[-6.70,0.39,3100],
  [-7.03,0.345,3100],[-6.96,0.36,3100],[-6.88,0.33,3100],[-6.80,0.35,3100],[-6.72,0.315,3100],[-6.67,0.345,3100],[-6.84,0.305,3100],[-6.69,0.28,3100]
];

// points crowding the sharp lower-left edge of the 550nm band
const edgeVis = [
  [-9.12,1.49,4500],[-9.05,1.46,4300],[-8.99,1.44,4100],[-8.95,1.40,4000],[-8.88,1.39,3900],[-8.85,1.35,3800],[-8.79,1.33,3700],[-8.74,1.29,3600],[-8.69,1.27,3600],[-8.64,1.22,3500],
  [-8.58,1.20,3500],[-8.53,1.16,3400],[-8.47,1.14,3400],[-8.43,1.09,3400],[-8.37,1.07,3300],[-8.33,1.03,3300],[-8.27,1.01,3300],[-8.21,0.97,3300],[-8.16,0.95,3200],[-8.10,0.91,3200],
  [-8.06,0.89,3200],[-8.00,0.85,3200],[-7.94,0.83,3200],[-7.90,0.79,3100],[-7.84,0.77,3100],[-7.78,0.73,3100],[-7.73,0.71,3100],[-7.69,0.67,3100],[-7.62,0.65,3100],[-7.58,0.61,3100],
  [-7.52,0.59,3100],[-7.47,0.55,3100],[-7.41,0.53,3100],[-7.36,0.49,3100],[-7.30,0.47,3100],[-7.25,0.43,3100],[-7.19,0.42,3100],[-7.14,0.38,3100],[-7.08,0.36,3100],[-7.00,0.33,3100],
  [-6.93,0.30,3100],[-6.87,0.29,3100],[-6.78,0.27,3100],
  [-9.00,1.47,4100],[-8.92,1.43,3900],[-8.82,1.38,3700],[-8.72,1.33,3600],[-8.63,1.28,3500],[-8.55,1.25,3400],[-8.46,1.19,3400],[-8.38,1.15,3300],[-8.30,1.10,3300],[-8.22,1.06,3300],
  [-8.14,1.02,3200],[-8.05,0.97,3200],[-7.97,0.93,3200],[-7.88,0.88,3100],[-7.80,0.84,3100],[-7.71,0.79,3100],[-7.63,0.75,3100],[-7.54,0.70,3100],[-7.46,0.66,3100],[-7.38,0.62,3100],
  [-7.30,0.58,3100],[-7.21,0.54,3100],[-7.12,0.49,3100],[-7.04,0.45,3100],[-6.95,0.42,3100],[-6.87,0.37,3100],[-6.79,0.33,3100],[-6.73,0.30,3100]
];

const yTicks = [0.5, 1.0, 1.5, 2.0, 2.5];
const sepLines = [2.0, 1.7, 1.0];          // horizontal dashed thresholds
const midTicks = [-8, -7, -6, -5, -4];
const midLines = [-7, -6, -5];
const visTicks = [-11, -10, -9, -8, -7];
const visLines = [-10, -9, -8];
const tempTicks = [3000, 4000, 5000, 6000, 7000];
const tempRange = [2441, 7918];

// ---- layout ----
const svg = d3.select("#fig");
const axTop = 22.7, axBottom = 546.7;
const yDomain = [0.155, 2.542];
const color = d3.scaleLinear().domain(tempRange).range(["#ff0000", "#ffff00"]);

const panels = [
  { title: "Precision and Signals via Imaging at 10\u03bcm", pts: pointsMid.concat(coreMid, denseMid), dom: [-8.003, -3.454],
    ticks: midTicks, lines: midLines, left: 63, right: 521, legendX: 346.4 },
  { title: "Precision and Signals via Imaging at 550nm", pts: pointsVis.concat(coreVis, edgeVis), dom: [-11.084, -6.384],
    ticks: visTicks, lines: visLines, left: 587.7, right: 1045.7, legendX: 595.7 }
];

panels.forEach(p => {
  const x = d3.scaleLinear().domain(p.dom).range([p.left, p.right]);
  const y = d3.scaleLinear().domain(yDomain).range([axBottom, axTop]);
  const g = svg.append("g");

  g.append("g").selectAll("circle")
    .data(p.pts)
    .join("circle")
    .attr("cx", d => x(d[0]))
    .attr("cy", d => y(d[1]))
    .attr("r", 2.4)
    .attr("fill", d => color(d[2]));

  // dashed guide lines
  g.append("g").selectAll("line")
    .data(sepLines)
    .join("line")
    .attr("x1", p.left).attr("x2", p.right)
    .attr("y1", d => y(d)).attr("y2", d => y(d))
    .attr("stroke", "#1f77b4").attr("stroke-width", 2.5).attr("stroke-dasharray", "9.25,4");
  g.append("g").selectAll("line")
    .data(p.lines)
    .join("line")
    .attr("x1", d => x(d)).attr("x2", d => x(d))
    .attr("y1", axBottom).attr("y2", axTop)
    .attr("stroke", "#1f77b4").attr("stroke-width", 2.5).attr("stroke-dasharray", "9.25,4");

  // axes
  const xAxis = g.append("g")
    .attr("transform", `translate(0,${axBottom})`)
    .call(d3.axisBottom(x).tickValues(p.ticks).tickFormat(d3.format("d")).tickSize(-3.5).tickPadding(4));
  const yAxis = g.append("g")
    .attr("transform", `translate(${p.left},0)`)
    .call(d3.axisLeft(y).tickValues(yTicks).tickFormat(d3.format(".1f")).tickSize(-3.5).tickPadding(3));
  [xAxis, yAxis].forEach(a => {
    a.select(".domain").remove();
    a.selectAll("line").attr("stroke", "#333");
    a.selectAll("text").attr("font-size", "18px").attr("font-family", "Liberation Serif");
  });

  g.append("rect")
    .attr("x", p.left).attr("y", axTop)
    .attr("width", p.right - p.left).attr("height", axBottom - axTop)
    .attr("fill", "none").attr("stroke", "#555").attr("stroke-width", 1.1);

  // title
  g.append("text")
    .attr("x", (p.left + p.right) / 2).attr("y", 20)
    .attr("text-anchor", "middle").attr("font-size", "22px")
    .text(p.title);

  // x label with subscripts
  const xl = g.append("text")
    .attr("x", (p.left + p.right) / 2).attr("y", 588)
    .attr("text-anchor", "middle").attr("font-size", "22px");
  xl.append("tspan").text("Contrast = lg(F");
  xl.append("tspan").attr("font-size", "15.4px").attr("dy", 5).text("planet");
  xl.append("tspan").attr("dy", -5).text("/F");
  xl.append("tspan").attr("font-size", "15.4px").attr("dy", 5).text("star");
  xl.append("tspan").attr("dy", -5).text(")");

  // y label
  g.append("text")
    .attr("transform", `translate(${p.left - 38},${(axTop + axBottom) / 2}) rotate(-90)`)
    .attr("text-anchor", "middle").attr("font-size", "22px")
    .text("lg(Angular Separation/mas)");

  // legend
  const lg = g.append("g").attr("transform", `translate(${p.legendX},31.7)`);
  lg.append("rect")
    .attr("width", 166.5).attr("height", 27.6).attr("rx", 3)
    .attr("fill", "#fff").attr("fill-opacity", 0.8)
    .attr("stroke", "#ccc").attr("stroke-width", 1);
  lg.append("circle").attr("cx", 21.6).attr("cy", 12.6).attr("r", 2.4).attr("fill", "#1f77b4");
  lg.append("text").attr("x", 51.6).attr("y", 18.3).attr("font-size", "16.5px").text("signal of the star");
});

// ---- colour bar ----
const cbL = 1071, cbR = 1110.5, cbTop = 45.7, cbBot = 522.7, tip = 23;
const cy = d3.scaleLinear().domain(tempRange).range([cbBot, cbTop]);
const defs = svg.append("defs");
const grad = defs.append("linearGradient").attr("id", "autumn")
  .attr("x1", 0).attr("y1", 1).attr("x2", 0).attr("y2", 0);
grad.append("stop").attr("offset", "0%").attr("stop-color", color(tempRange[0]));
grad.append("stop").attr("offset", "100%").attr("stop-color", color(tempRange[1]));
const cbMid = (cbL + cbR) / 2;
svg.append("rect").attr("x", cbL).attr("y", cbTop).attr("width", cbR - cbL).attr("height", cbBot - cbTop)
  .attr("fill", "url(#autumn)");
svg.append("path").attr("d", `M${cbL},${cbTop}L${cbMid},${cbTop - tip}L${cbR},${cbTop}Z`)
  .attr("fill", color(tempRange[1]));
svg.append("path").attr("d", `M${cbL},${cbBot}L${cbMid},${cbBot + tip}L${cbR},${cbBot}Z`)
  .attr("fill", color(tempRange[0]));
svg.append("path")
  .attr("d", `M${cbL},${cbTop}L${cbMid},${cbTop - tip}L${cbR},${cbTop}L${cbR},${cbBot}L${cbMid},${cbBot + tip}L${cbL},${cbBot}Z`)
  .attr("fill", "none").attr("stroke", "#555").attr("stroke-width", 0.8);

const cAxis = svg.append("g")
  .attr("transform", `translate(${cbR},0)`)
  .call(d3.axisRight(cy).tickValues(tempTicks).tickFormat(d3.format("d")).tickSize(-3.5).tickPadding(4.5));
cAxis.select(".domain").remove();
cAxis.selectAll("line").attr("stroke", "#333");
cAxis.selectAll("text").attr("font-size", "15.5px").attr("font-family", "Liberation Serif");

svg.append("text")
  .attr("transform", `translate(1162,${(cbTop + cbBot) / 2}) rotate(-90)`)
  .attr("text-anchor", "middle").attr("font-size", "18px")
  .text("Effective Temperature/K");
</script>
</body>
</html>
